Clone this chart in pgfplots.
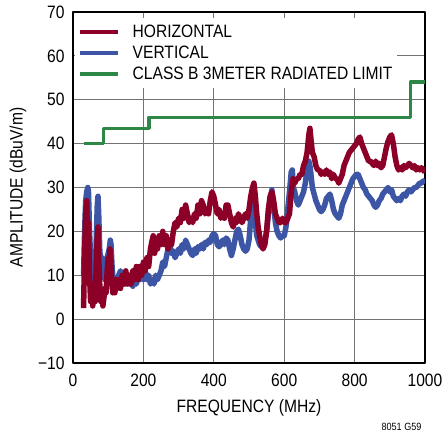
\documentclass[border=0pt]{standalone}
\usepackage{pgfplots}
\pgfplotsset{compat=1.18}
\usepackage{fontspec}
\setmainfont{Liberation Sans}[FakeStretch=0.87]
\definecolor{hred}{RGB}{140,0,40}
\definecolor{vblue}{RGB}{60,85,165}
\definecolor{lgreen}{RGB}{45,135,70}
\begin{document}
\begin{tikzpicture}[font=\fontsize{18}{21}\selectfont]
\useasboundingbox (-73bp,-69bp) rectangle (371bp,363bp);
\begin{axis}[
  scale only axis, width=352bp, height=351bp,
  xmin=0, xmax=1000, ymin=-10, ymax=70,
  xtick={0,200,...,1000}, xticklabels={0,200,400,600,800,1000},
  ytick={-10,0,...,70}, yticklabels={−10,0,10,20,30,40,50,60,70},
  major tick length=0pt,
  grid=major,
  major grid style={black!55, line width=1.1bp},
  axis line style={black, line width=2bp},
  tick label style={font=\fontsize{18}{21}\selectfont},
  yticklabel style={xshift=-5bp},
  xticklabel style={yshift=-7bp},
  xlabel={FREQUENCY (MHz)},
  ylabel={AMPLITUDE (dBuV/m)},
  xlabel style={at={(axis description cs:0.5,0)}, anchor=center, yshift=-45bp},
  ylabel style={at={(axis description cs:-0.156,0.5)}, anchor=center},
  legend cell align=left,
  legend style={at={(axis description cs:0,1)}, anchor=north west, fill=white, draw=none,
    inner xsep=3bp, inner ysep=5bp, xshift=1.5bp, yshift=-6bp, row sep=3bp, column sep=11bp,
    font=\fontsize{18}{21}\selectfont},
  legend image code/.code={\draw[#1] (0bp,0bp) -- (38bp,0bp);},
  line join=round,
]
\addlegendimage{hred, line width=4bp}
\addlegendentry{HORIZONTAL}
\addlegendimage{vblue, line width=4bp}
\addlegendentry{VERTICAL}
\addlegendimage{lgreen, line width=3.5bp}
\addlegendentry{CLASS B 3METER RADIATED LIMIT}
\addplot[vblue, line width=5.5bp, forget plot] coordinates {
(30,10)(33,20)(36,27)(39,29)(42,30)(44,29)(47,20)(50,14)(53,8)(56,12)(60,7)(63,9)(66,18)(69,26)(71,28)(73,24)(76,16)(79,12)(82,14)(85,13)(88,10)(91,9)(94,11)(97,14)(100,15)(103,16)(106,18)(108,17)(111,12)(114,9)(117,8)(120,7)(125,8)(130,10)(135,11)(140,10)(145,9)(150,8)(155,9)(160,8)(165,9)(170,7.5)(175,9)(180,8)(185,10)(190,9)(195,10.5)(200,9)(205,11)(210,9)(215,10)(220,8)(225,9)(230,8)(235,10)(240,9)(245,10)(250,11)(255,13)(260,12)(265,14)(270,16)(275,17)(280,15)(285,15.5)(290,14)(295,15)(300,16)(305,15)(310,17)(315,16)(320,18)(325,17)(330,16)(335,15)(340,14.5)(345,16)(350,15)(355,16.5)(360,16)(365,17)(370,16)(375,17.5)(380,17)(385,18)(390,17.5)(395,19)(400,19.5)(405,19)(410,17)(415,16.5)(420,17)(425,18)(430,17)(435,18.5)(440,18)(445,16)(450,14.5)(455,16)(460,18)(465,20)(470,20.5)(475,19)(480,17)(485,16)(490,15.5)(495,16)(500,18)(505,23)(510,27)(514,27)(518,22)(522,19)(526,18)(530,17)(535,16.5)(540,17)(545,18)(550,20)(555,24)(560,27)(565,29.5)(570,26)(575,22)(580,20)(585,19)(590,18.5)(595,19)(600,19)(605,21)(610,25)(615,29)(620,33.5)(623,34)(626,30)(630,29)(635,27)(640,26)(645,27)(650,28)(655,29)(660,31)(665,34)(670,36)(673,35)(676,33)(680,30)(685,28.5)(690,27)(695,26)(700,25)(705,24.5)(710,25)(715,26)(720,27.5)(725,28)(730,28.5)(735,27)(740,25)(745,24)(750,23.5)(755,23)(760,24)(765,26)(770,27)(775,28)(780,29)(785,30)(790,31)(795,32)(800,32.5)(805,33)(810,33)(815,32)(820,31)(825,30)(830,29.5)(835,28.5)(840,28)(845,27.5)(850,27)(855,26)(860,25.5)(865,26)(870,27)(875,27.5)(880,28.5)(885,29)(890,29.5)(895,30)(900,29)(905,29.5)(910,28)(915,27.5)(920,27)(925,27.5)(930,27)(935,28)(940,28.5)(945,28)(950,29)(955,29.5)(960,29)(965,29.5)(970,30)(975,30)(980,30.5)(985,31)(990,31)(995,31.5)(1000,31)
};
\addplot[hred, line width=5.5bp, forget plot] coordinates {
(30,2.5)(33,15)(36,24)(39,27)(41,18)(44,22)(47,10)(50,4)(53,8)(56,3)(60,6)(63,4)(66,12)(69,19)(71,21)(73,14)(76,8)(79,4)(82,6)(85,3)(88,5)(91,7)(94,6)(97,11)(100,14)(103,12)(105,16)(107,14)(110,9)(113,6)(116,8)(119,6)(122,9)(125,7)(130,9)(135,7)(140,10)(145,8)(150,11)(155,8)(160,10)(165,8)(170,11)(175,9)(180,12)(185,9)(190,12)(195,10)(200,13)(205,11)(210,14)(215,12)(220,16)(225,18)(228,19)(232,15)(236,18)(240,16)(245,19)(250,17)(255,20)(260,17)(265,19)(270,16)(275,18)(280,17)(285,20)(290,22)(295,21)(300,23)(305,22)(310,25)(315,23)(320,26)(325,24)(330,22)(335,23)(340,22)(345,24)(350,23)(355,26)(360,24)(365,27)(370,26)(375,24)(380,25)(385,24)(390,27)(395,29)(400,28)(405,26)(410,24)(415,25)(420,23)(425,24)(430,23)(435,26)(440,26)(445,24)(450,22)(455,21)(460,23)(465,22)(470,24)(475,23)(480,22)(485,23)(490,24)(495,23)(500,25)(505,28)(510,30)(514,31)(518,28)(522,24)(526,21)(530,19)(535,17)(540,16)(545,17)(550,20)(555,25)(560,28)(565,29)(570,27)(575,24)(580,23)(585,22)(590,22)(595,23)(600,22)(605,22)(610,23)(615,24)(620,29)(625,32)(630,31)(635,32)(640,32)(645,33)(650,33)(655,35)(660,36)(665,38)(670,42)(673,43.5)(676,41)(680,38)(685,37)(690,35)(695,34)(700,34)(705,33)(710,33.5)(715,33)(720,34)(725,33)(730,33.5)(735,32)(740,33)(745,32)(750,32)(755,31)(760,32)(765,33)(770,35)(775,36)(780,37)(785,38)(790,38.5)(795,39)(800,39.5)(805,40)(810,41)(815,41.5)(820,40)(825,39)(830,38)(835,37)(840,36)(845,36)(850,35.5)(855,35)(860,36)(865,35)(870,35.5)(875,34.5)(880,35)(885,37)(890,39)(895,40.5)(900,41.5)(905,42)(910,40)(915,37)(920,35)(925,34)(930,34.5)(935,34)(940,35)(945,34.5)(950,35)(955,35.5)(960,35)(965,34.5)(970,35)(975,34)(980,34.5)(985,34)(990,34.5)(995,34)(1000,33.5)
};
\addplot[lgreen, line width=3.5bp, forget plot] coordinates {
(31,40)(86,40)(86,43.5)(216,43.5)(216,46)(959,46)(959,54)(1000,54)
};
\end{axis}
\node[anchor=base east, font=\fontsize{10.5}{12}\selectfont] at (352bp,-67bp) {8051 G59};
\end{tikzpicture}
\end{document}
